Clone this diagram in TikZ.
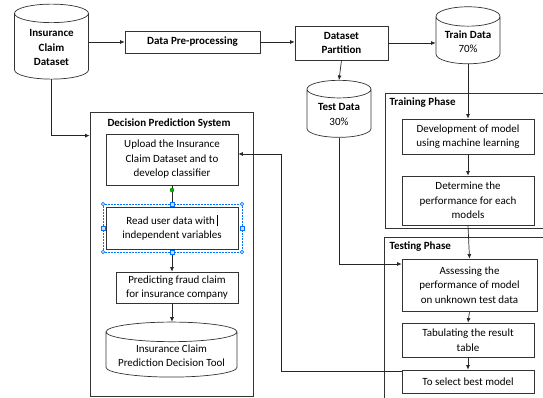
\documentclass[tikz,border=0pt]{standalone}
\usepackage{fontspec}
\setmainfont{Carlito}
\usetikzlibrary{shapes.geometric,arrows.meta}

\tikzset{
  box/.style={draw=black!80, line width=0.7pt, fill=white, align=center, inner sep=1pt,
    font=\fontsize{11}{14.5}\selectfont},
  drum/.style={cylinder, shape border rotate=90, draw=black!80, line width=0.7pt,
    fill=white, align=center, inner sep=1pt, font=\fontsize{11}{14.5}\selectfont},
  frame/.style={draw=black!80, line width=0.7pt},
  arr/.style={-{Latex[length=4.5pt,width=4pt]}, line width=0.7pt, draw=black!85},
  handle/.style={draw=blue!55!cyan, fill=blue!15, line width=0.5pt},
}

\begin{document}
\begin{tikzpicture}[x=1pt, y=-1pt]
			\useasboundingbox (0,0) rectangle (543,398);

			% Draw the two phase frames on the right
			\draw[frame] (543,93) -- (385,93) -- (385,228) -- (543,228);
			\node[anchor=west, font=\fontsize{11}{12}\selectfont\bfseries] (trainlbl) at (386,103) {Training Phase};
			\draw[frame] (543,237) -- (384,237) -- (384,398);
			\node[anchor=west, font=\fontsize{11}{12}\selectfont\bfseries] (testlbl) at (386,247) {Testing Phase};

			% Draw the frame of the decision system
			\node[frame, minimum width=163pt, minimum height=284pt, inner sep=0pt] (dps) at (171.5,254) {};
			\node[anchor=west, font=\fontsize{11}{12}\selectfont\bfseries] (dpslbl) at (104,123) {Decision Prediction System};

			% Draw the top row
			\node[drum, minimum width=74pt, minimum height=75pt, aspect=0.4] (icd) at (51.5,47.5)
				{\bfseries Insurance\\\bfseries Claim\\\bfseries Dataset};
			\node[box, minimum width=135pt, minimum height=22pt] (prep) at (192.5,42) {\bfseries Data Pre-processing};
			\node[box, minimum width=93pt, minimum height=34pt] (part) at (341.5,43) {\bfseries Dataset\\\bfseries Partition};
			\node[drum, minimum width=64pt, minimum height=57pt, aspect=0.4] (train) at (468,41.5)
				{\bfseries Train Data\\70\%};
			\node[drum, minimum width=64pt, minimum height=57pt, aspect=0.4] (test) at (339,114.5)
				{\bfseries Test Data\\30\%};

			% Draw the boxes of the training and testing phase
			\node[box, minimum width=132pt, minimum height=35pt] (dev) at (468,136.5) {Development of model\\using machine learning};
			\node[box, minimum width=132pt, minimum height=49pt] (det) at (468,200.5) {Determine the\\performance for each\\models};
			\node[box, minimum width=135pt, minimum height=52pt] (ass) at (469.5,285) {Assessing the\\performance of model\\on unknown test data};
			\node[box, minimum width=132pt, minimum height=34pt] (tab) at (468,340) {Tabulating the result\\table};
			\node[box, minimum width=132pt, minimum height=23pt] (sel) at (468,381.5) {To select best model};

			% Draw the boxes of the decision system
			\node[box, minimum width=132pt, minimum height=51pt] (upload) at (172,159.5) {Upload the Insurance\\Claim Dataset and to\\develop classifier};
			\node[box, minimum width=132pt, minimum height=42pt] (read) at (172,228)
				{Read user data with\,\rule[-2pt]{0.9pt}{11pt}\\independent variables};
			\node[box, minimum width=122pt, minimum height=31pt] (pred) at (177,287.5) {Predicting fraud claim\\for insurance company};
			\node[drum, minimum width=131pt, minimum height=55pt, aspect=0.18] (tool) at (171.5,355.5)
				{Insurance Claim\\Prediction Decision Tool};

			% Draw the arrows of the top row
			\draw[arr] (prep.west -| icd.east) -- (prep.west);
			\draw[arr] (prep.east) -- (prep.east -| part.west);
			\draw[arr] (part.east) -- (part.east -| train.west);
			\draw[arr] (part.south) -- (test.north);
			\draw[arr] (icd.south) |- ([yshift=-24pt]dps.north west);

			% Draw the arrows on the right
			\draw[arr] (train.south) -- (dev.north);
			\draw[arr] (dev.south) -- (det.north);
			\draw[arr] (det.south) -- (ass.north);
			\draw[arr] (ass.south) -- (tab.north);
			\draw[arr] (tab.south) -- (sel.north);
			\draw[arr] (test.south) |- ([yshift=21pt]ass.west);
			\draw[arr] ([yshift=-1.5pt]sel.north west) -- ++(-120,0) |- ([yshift=5.5pt]upload.east);

			% Draw the arrows of the decision system
			\draw[line width=0.7pt, black!85] (upload.south) -- (read.north);
			\draw[arr] (read.south) -- (read.south |- pred.north);
			\draw[arr] (read.south |- pred.south) -- (read.south |- tool.north);

			% Draw the selection handles round the selected box
			\draw[blue!55!cyan, densely dotted, line width=0.5pt] (103,204) rectangle (242,252);
			\foreach \hx/\hy in {103/204, 242/204, 103/252, 242/252}
				\draw[handle] (\hx,\hy) circle (1.8pt);
			\foreach \hx/\hy in {172.5/204, 172.5/252, 103/228, 242/228}
				\draw[handle] (\hx-1.8,\hy-1.8) rectangle (\hx+1.8,\hy+1.8);
			\draw[draw=green!50!black, fill=green!70!black] (172,190) circle (2pt);

		\end{tikzpicture}
\end{document}
